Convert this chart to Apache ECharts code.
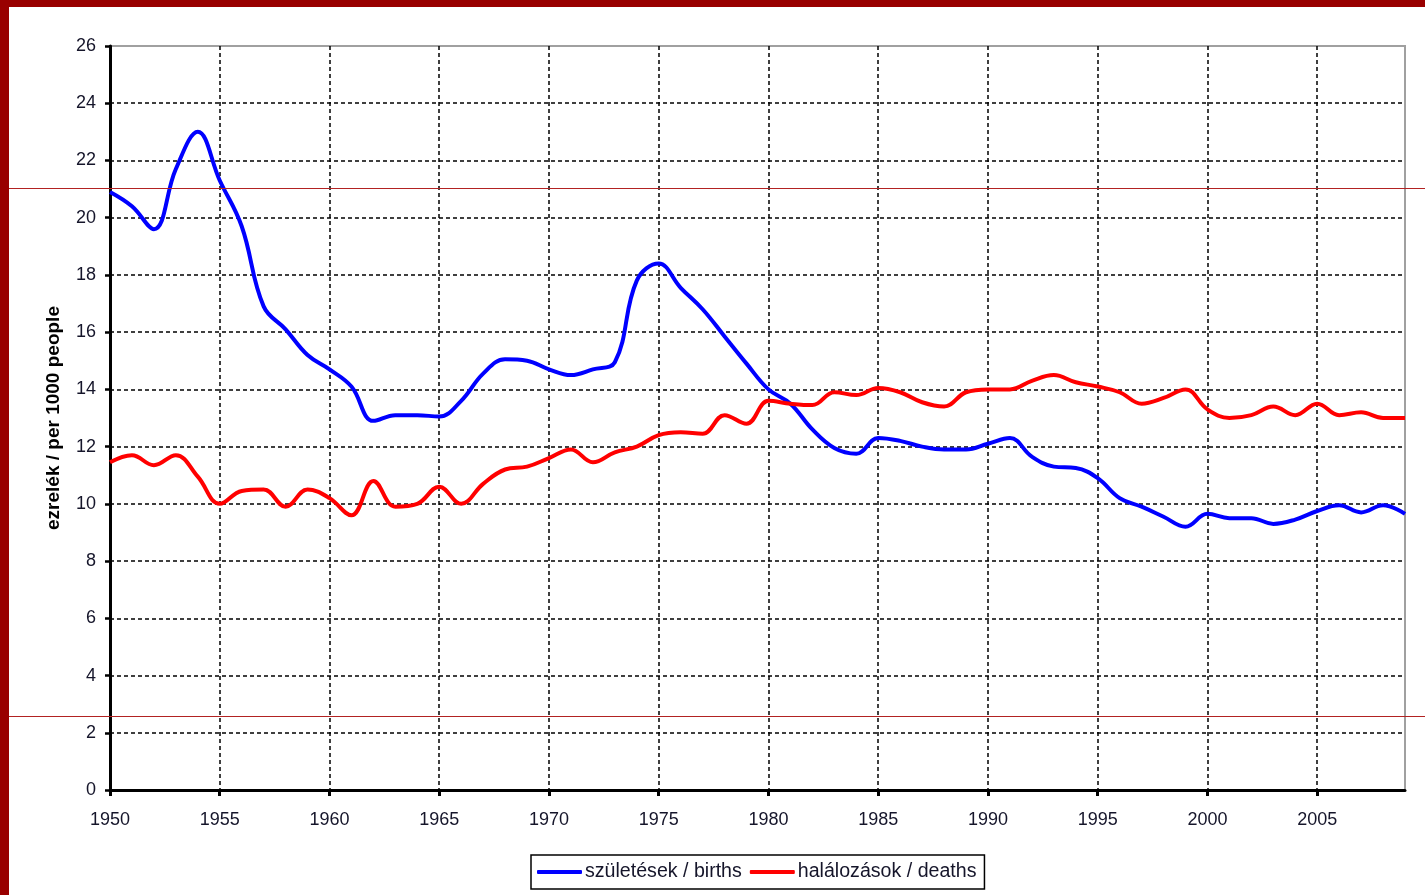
<!DOCTYPE html>
<html>
<head>
<meta charset="utf-8">
<script src="https://cdn.jsdelivr.net/npm/echarts@6/dist/echarts.min.js"></script>
<style>
html,body{margin:0;padding:0;background:#fff;}
#chart{width:1425px;height:895px;}
</style>
</head>
<body>
<div id="chart"></div>
<script>
var years = [1950,1951,1952,1953,1954,1955,1956,1957,1958,1959,
             1960,1961,1962,1963,1964,1965,1966,1967,1968,1969,
             1970,1971,1972,1973,1974,1975,1976,1977,1978,1979,
             1980,1981,1982,1983,1984,1985,1986,1987,1988,1989,
             1990,1991,1992,1993,1994,1995,1996,1997,1998,1999,
             2000,2001,2002,2003,2004,2005,2006,2007,2008,2009];
var births = [20.9,20.4,19.6,21.7,23.0,21.3,19.7,16.9,16.1,15.2,
              14.7,14.1,12.9,13.1,13.1,13.05,13.6,14.55,15.05,15.0,
              14.7,14.5,14.7,14.95,17.8,18.4,17.55,16.8,15.85,14.9,
              14.0,13.5,12.6,11.95,11.75,12.3,12.2,12.0,11.9,11.9,
              12.1,12.3,11.65,11.3,11.25,10.9,10.2,9.9,9.55,9.2,
              9.65,9.5,9.5,9.3,9.45,9.75,9.95,9.7,9.95,9.65];
var deaths = [11.45,11.7,11.35,11.7,10.95,10.0,10.45,10.5,9.9,10.5,
              10.2,9.6,10.8,9.9,10.0,10.6,10.0,10.7,11.2,11.3,
              11.6,11.9,11.45,11.8,12.0,12.4,12.5,12.45,13.1,12.8,
              13.6,13.5,13.45,13.9,13.8,14.05,13.9,13.55,13.4,13.9,
              14.0,14.0,14.3,14.5,14.25,14.1,13.9,13.5,13.7,14.0,
              13.3,13.0,13.1,13.4,13.1,13.5,13.1,13.2,13.0,13.0];
var seriesNames = ['születések / births', 'halálozások / deaths'];
var yAxisName = 'ezrelék / per 1000 people';

var FONT = '"Liberation Sans", Arial, sans-serif';
var TXT = '#15152a';

var chart = echarts.init(document.getElementById('chart'), null, {renderer: 'canvas'});
chart.setOption({
  animation: false,
  backgroundColor: '#fff',
  grid: {
    left: 110, right: 20, top: 46, bottom: 105,
    show: true, borderColor: '#a0a0a0', borderWidth: 2, backgroundColor: 'transparent'
  },
  legend: {
    data: seriesNames,
    left: 531, top: 855,
    orient: 'horizontal',
    itemWidth: 45, itemHeight: 4, itemGap: 8,
    padding: [7, 8, 7, 6],
    borderColor: '#000', borderWidth: 1.5,
    backgroundColor: '#fff',
    icon: 'roundRect',
    textStyle: {fontFamily: FONT, fontSize: 19.6, color: TXT, padding: [0, 0, 0, -2]}
  },
  xAxis: {
    type: 'category',
    data: years,
    boundaryGap: false,
    axisLine: {show: true, lineStyle: {color: '#000', width: 3}},
    axisTick: {show: true, interval: 4, length: 6, lineStyle: {color: '#000', width: 3}},
    axisLabel: {interval: 4, margin: 21, fontFamily: FONT, fontSize: 18, color: TXT},
    splitLine: {show: true, interval: 4, lineStyle: {color: '#000', width: 1.5, type: [4, 3]}}
  },
  yAxis: {
    type: 'value',
    min: 0, max: 26, interval: 2,
    name: yAxisName,
    nameLocation: 'middle',
    nameGap: 47,
    nameTextStyle: {fontFamily: FONT, fontSize: 19, fontWeight: 'bold', color: '#000'},
    axisLine: {show: true, lineStyle: {color: '#000', width: 3}},
    axisTick: {show: true, length: 5, lineStyle: {color: '#000', width: 2.5}},
    axisLabel: {margin: 14, fontFamily: FONT, fontSize: 18, color: TXT},
    splitLine: {show: true, showMaxLine: false, lineStyle: {color: '#000', width: 1.5, type: [4, 3]}}
  },
  graphic: [
    {type: 'rect', shape: {x: 0, y: 0, width: 1425, height: 7}, style: {fill: '#990000'}, z: 100},
    {type: 'rect', shape: {x: 0, y: 0, width: 9, height: 895}, style: {fill: '#990000'}, z: 100},
    {type: 'line', shape: {x1: 9, y1: 188.5, x2: 1425, y2: 188.5}, style: {stroke: '#b22222', lineWidth: 1}, z: 100},
    {type: 'line', shape: {x1: 9, y1: 716.5, x2: 1425, y2: 716.5}, style: {stroke: '#b22222', lineWidth: 1}, z: 100}
  ],
  series: [
    {
      name: seriesNames[0], type: 'line', data: births,
      symbol: 'none', smooth: 0.4,
      lineStyle: {color: '#0000ff', width: 4},
      itemStyle: {color: '#0000ff'}
    },
    {
      name: seriesNames[1], type: 'line', data: deaths,
      symbol: 'none', smooth: 0.4,
      lineStyle: {color: '#ff0000', width: 4},
      itemStyle: {color: '#ff0000'}
    }
  ]
});
</script>
</body>
</html>
